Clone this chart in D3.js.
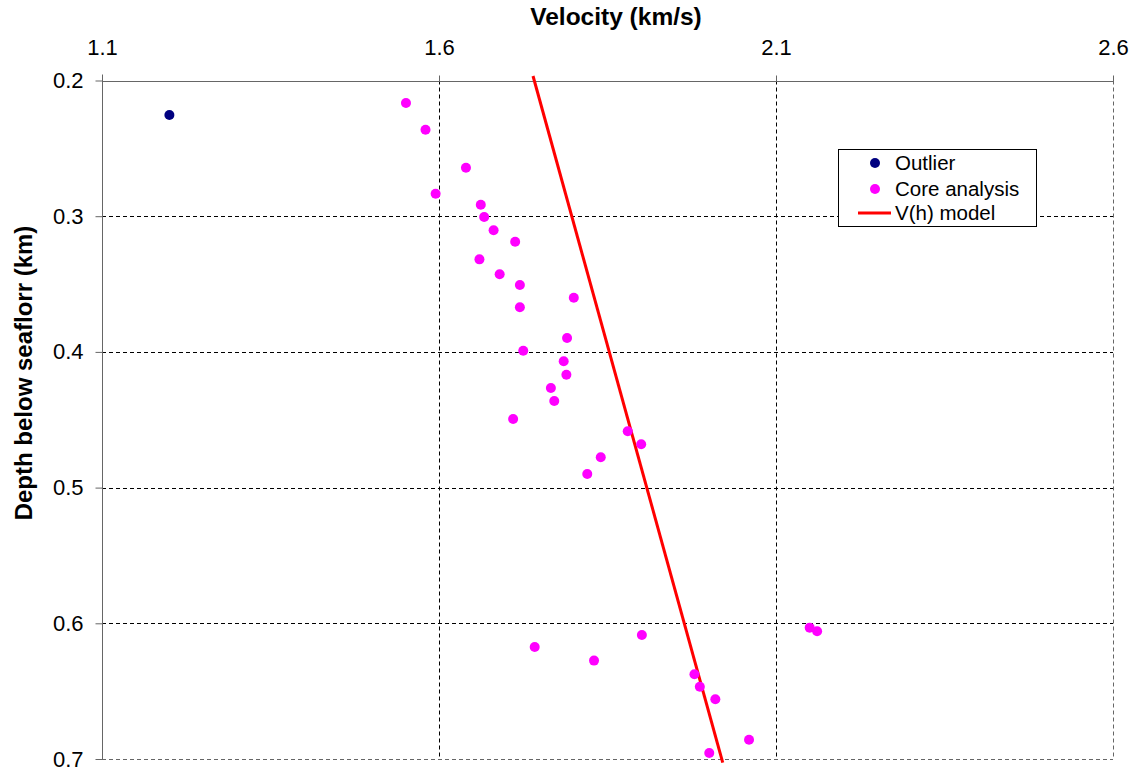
<!DOCTYPE html>
<html>
<head>
<meta charset="utf-8">
<script src="https://cdn.jsdelivr.net/npm/d3@7"></script>
<style>
  html, body { margin: 0; padding: 0; background: #fff; }
  svg { display: block; font-family: "Liberation Sans", Arial, sans-serif; }
</style>
</head>
<body>
<svg id="chart" width="1136" height="769"></svg>
<script>
// Velocity (km/s) and depth below seafloor (km)
const outlierVelocity = [1.200];
const outlierDepth    = [0.2254];

const coreVelocity = [
  1.551, 1.580, 1.640, 1.595, 1.662, 1.667, 1.681, 1.713, 1.660, 1.690,
  1.720, 1.720, 1.800, 1.790, 1.725, 1.785, 1.789, 1.766, 1.771, 1.710,
  1.880, 1.900, 1.840, 1.820, 2.150, 2.161, 1.901, 1.742, 1.830, 1.979,
  1.987, 2.010, 2.060, 2.001
];
const coreDepth = [
  0.2166, 0.2363, 0.2643, 0.2834, 0.2915, 0.3006, 0.3104, 0.3188, 0.3318, 0.3428,
  0.3507, 0.3671, 0.3601, 0.3898, 0.3991, 0.4069, 0.4168, 0.4266, 0.4362, 0.4494,
  0.4585, 0.4681, 0.4777, 0.4900, 0.6032, 0.6059, 0.6086, 0.6175, 0.6275, 0.6376,
  0.6467, 0.6560, 0.6858, 0.6956
];

// V(h) model line end points
const modelVelocity = [1.7395, 2.021];
const modelDepth    = [0.1967, 0.7027];

const xTicks = [1.1, 1.6, 2.1, 2.6];
const yTicks = [0.2, 0.3, 0.4, 0.5, 0.6, 0.7];

const legendLabels = ["Outlier", "Core analysis", "V(h) model"];

const svg = d3.select("#chart");
const plotLeft = 102, plotRight = 1113, plotTop = 80.5, plotBottom = 759;

const x = d3.scaleLinear().domain([1.1, 2.6]).range([plotLeft, plotRight]);
const y = d3.scaleLinear().domain([0.2, 0.7]).range([plotTop, plotBottom]);

// Dashed grid
const grid = svg.append("g");
grid.selectAll("line.v").data(xTicks.slice(1)).join("line")
  .attr("x1", d => Math.round(x(d)) + 0.5).attr("x2", d => Math.round(x(d)) + 0.5)
  .attr("y1", plotTop).attr("y2", plotBottom)
  .attr("stroke", d => d === 2.6 ? "#666" : "#000").attr("stroke-width", 1)
  .attr("stroke-dasharray", "4,3");
grid.selectAll("line.h").data(yTicks.slice(1)).join("line")
  .attr("x1", plotLeft).attr("x2", plotRight)
  .attr("y1", d => Math.round(y(d)) + 0.5).attr("y2", d => Math.round(y(d)) + 0.5)
  .attr("stroke", d => d === 0.7 ? "#666" : "#000").attr("stroke-width", 1)
  .attr("stroke-dasharray", "4,3");

// Top axis
const xAxis = d3.axisTop(x).tickValues(xTicks).tickFormat(d3.format(".1f"))
  .tickSize(6).tickPadding(21);
const gx = svg.append("g").attr("transform", `translate(0,${Math.round(plotTop) + 0.5})`).call(xAxis);
gx.select(".domain").attr("stroke", "#666").attr("d", `M${plotLeft},0H${plotRight}`);
gx.selectAll(".tick line").attr("stroke", "#666");
gx.selectAll(".tick text").attr("font-size", 22).attr("fill", "#000")
  .attr("font-family", "Liberation Sans, Arial, sans-serif");

// Left axis
const yAxis = d3.axisLeft(y).tickValues(yTicks).tickFormat(d3.format(".1f"))
  .tickSize(7).tickPadding(12);
const gy = svg.append("g").attr("transform", `translate(${plotLeft + 0.5},0)`).call(yAxis);
gy.select(".domain").attr("stroke", "#666").attr("d", `M0,${plotTop - 6}V${plotBottom}`);
gy.selectAll(".tick line").attr("stroke", "#666");
gy.selectAll(".tick text").attr("font-size", 22).attr("fill", "#000")
  .attr("font-family", "Liberation Sans, Arial, sans-serif");

// Axis titles
svg.append("text").attr("x", 616).attr("y", 25).attr("text-anchor", "middle")
  .attr("font-size", 24.5).attr("font-weight", "bold").text("Velocity (km/s)");
svg.append("text").attr("transform", "translate(32,373) rotate(-90)")
  .attr("text-anchor", "middle").attr("font-size", 24).attr("font-weight", "bold")
  .text("Depth below seaflorr (km)");

// Model line
const line = d3.line().x(d => x(d[0])).y(d => y(d[1]));
svg.append("path").datum(d3.zip(modelVelocity, modelDepth))
  .attr("d", line).attr("fill", "none").attr("stroke", "#ff0000").attr("stroke-width", 3);

// Points
svg.append("g").selectAll("circle").data(d3.zip(coreVelocity, coreDepth)).join("circle")
  .attr("cx", d => x(d[0])).attr("cy", d => y(d[1])).attr("r", 5).attr("fill", "#ff00ff");
svg.append("g").selectAll("circle").data(d3.zip(outlierVelocity, outlierDepth)).join("circle")
  .attr("cx", d => x(d[0])).attr("cy", d => y(d[1])).attr("r", 5).attr("fill", "#000080");

// Legend
const lg = svg.append("g");
lg.append("rect").attr("x", 838.5).attr("y", 149.5).attr("width", 198).attr("height", 77)
  .attr("fill", "#fff").attr("stroke", "#000").attr("stroke-width", 1);
const rows = [163, 189, 213];
lg.append("circle").attr("cx", 875).attr("cy", rows[0]).attr("r", 5).attr("fill", "#000080");
lg.append("circle").attr("cx", 875).attr("cy", rows[1]).attr("r", 5).attr("fill", "#ff00ff");
lg.append("line").attr("x1", 858).attr("x2", 891).attr("y1", rows[2]).attr("y2", rows[2])
  .attr("stroke", "#ff0000").attr("stroke-width", 3);
lg.selectAll("text").data(legendLabels).join("text")
  .attr("x", 895).attr("y", (d, i) => rows[i]).attr("dy", "0.35em")
  .attr("font-size", 20.5).attr("fill", "#000").text(d => d);
</script>
</body>
</html>
